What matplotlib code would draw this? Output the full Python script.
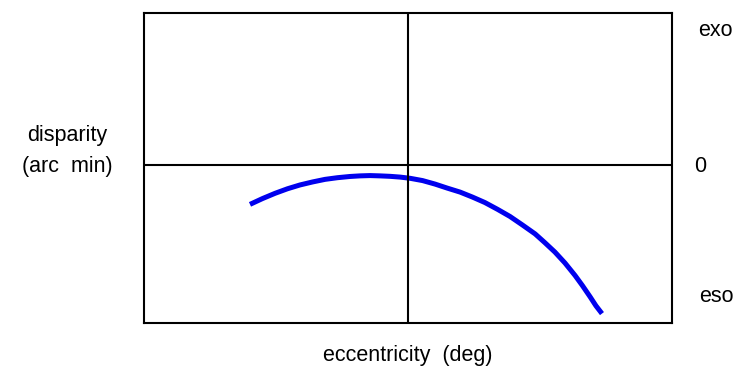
import matplotlib
matplotlib.use("Agg")
import matplotlib.pyplot as plt

plt.rcParams['font.family'] = ['Liberation Sans', 'DejaVu Sans']

# curve (eccentricity, disparity), axes span -1..1
ecc = [-0.597, -0.550, -0.502, -0.455, -0.408, -0.360, -0.313, -0.266, -0.219,
       -0.181, -0.143, -0.105, -0.067, -0.029, 0.009, 0.056, 0.103, 0.150,
       0.198, 0.245, 0.292, 0.340, 0.387, 0.434, 0.482, 0.519, 0.557, 0.595,
       0.633, 0.661, 0.690, 0.712, 0.735]
disp = [-0.263, -0.225, -0.190, -0.160, -0.135, -0.115, -0.098, -0.087, -0.079,
        -0.075, -0.073, -0.075, -0.078, -0.083, -0.091, -0.106, -0.129, -0.156,
        -0.182, -0.215, -0.251, -0.296, -0.343, -0.399, -0.458, -0.516, -0.578,
        -0.650, -0.732, -0.799, -0.873, -0.932, -0.984]

right_labels = ["exo", "0", "eso"]

W, H = 739, 370
fig = plt.figure(figsize=(W / 100, H / 100), dpi=100)
ax = fig.add_axes([143.5 / W, 1 - 323 / H, 528.5 / W, 310 / H])

ax.plot(ecc, disp, color="#0000ee", lw=3.6, solid_capstyle="butt",
        solid_joinstyle="round")
ax.axvline(0, color="black", lw=1.5)
ax.axhline(0, color="black", lw=1.5)
ax.set_xlim(-1, 1)
ax.set_ylim(-1.046, 1)
ax.set_xticks([])
ax.set_yticks([])
for s in ax.spines.values():
    s.set_linewidth(1.5)

def ftext(x, y, s, **kw):
    fig.text(x / W, 1 - y / H, s, fontsize=15.5, **kw)

ftext(715, 30, right_labels[0], ha="center", va="center")
ftext(700, 166, right_labels[1], ha="center", va="center")
ftext(716, 297, right_labels[2], ha="center", va="center")
ftext(67, 136, "disparity", ha="center", va="center")
ftext(67, 166, "(arc  min)", ha="center", va="center")
ftext(408, 355, "eccentricity  (deg)", ha="center", va="center")

fig.savefig("out.png", dpi=100)
